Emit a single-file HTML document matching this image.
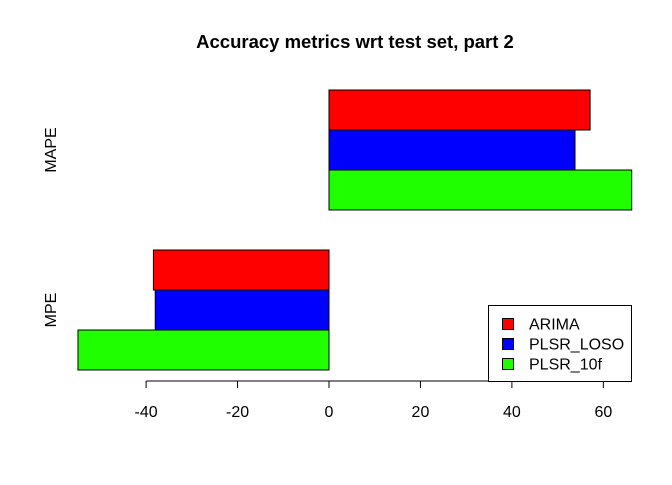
<!DOCTYPE html>
<html><head><meta charset="utf-8"><style>
body{margin:0;background:#fff}
svg text{font-family:"Liberation Sans",Arial,sans-serif}
</style></head><body>
<svg id="chart" width="672" height="480" xmlns="http://www.w3.org/2000/svg">
<text x="355" y="48" text-anchor="middle" font-size="18.5" font-weight="bold">Accuracy metrics wrt test set, part 2</text>
<g id="bars"></g>
<g id="axis"></g>
<g id="legend"></g>
</svg>
<script>
const groups = ["MAPE", "MPE"];
const seriesNames = ["ARIMA", "PLSR_LOSO", "PLSR_10f"];
const colors = ["#ff0000", "#0000ff", "#1fff00"];
const ARIMA = [57.1, -38.4];
const PLSR_LOSO = [53.8, -38.0];
const PLSR_10f = [66.2, -54.9];
const tickValues = [-40, -20, 0, 20, 40, 60];
const series = [ARIMA, PLSR_LOSO, PLSR_10f];
const NS = "http://www.w3.org/2000/svg";
const x = v => 329 + v * 4.5725;
const groupTop = [90, 250];
const barH = 40;
function mk(tag, attrs, parent){const e=document.createElementNS(NS,tag);for(const k in attrs)e.setAttribute(k,attrs[k]);parent.appendChild(e);return e;}
const bars=document.getElementById('bars');
groups.forEach((g,gi)=>{
  series.forEach((s,si)=>{
    const v=s[gi];
    const r=mk('rect',{x:Math.min(x(0),x(v)),y:groupTop[gi]+si*barH,width:Math.abs(x(v)-x(0)),height:barH,fill:colors[si],stroke:'#000','stroke-width':1},bars);
    
    
  });
  const cy=groupTop[gi]+1.5*barH;
  const t=mk('text',{x:0,y:0,transform:`translate(56,${cy}) rotate(-90)`,'text-anchor':'middle','font-size':16},bars);
  t.textContent=g;
  
  
});
const ax=document.getElementById('axis');
const line=mk('line',{x1:x(tickValues[0]),x2:x(tickValues[tickValues.length-1]),y1:381,y2:381,stroke:'#000'},ax);


tickValues.forEach(v=>{
  const tk=mk('line',{x1:x(v),x2:x(v),y1:381,y2:388,stroke:'#000'},ax);
  
  
  const t=mk('text',{x:x(v),y:417,'text-anchor':'middle','font-size':16},ax);
  t.textContent=v;
  
  
});
const lg=document.getElementById('legend');
const box=mk('rect',{x:488.5,y:305.5,width:143,height:76,fill:'#fff',stroke:'#000'},lg);


seriesNames.forEach((n,i)=>{
  const yy=324+i*20;
  const sw=mk('rect',{x:502.5,y:yy-5.5,width:11,height:11,fill:colors[i],stroke:'#000'},lg);
  
  
  const t=mk('text',{x:529,y:yy+5.5,'font-size':16},lg);
  t.textContent=n;
  
  
});
</script>
</body></html>
